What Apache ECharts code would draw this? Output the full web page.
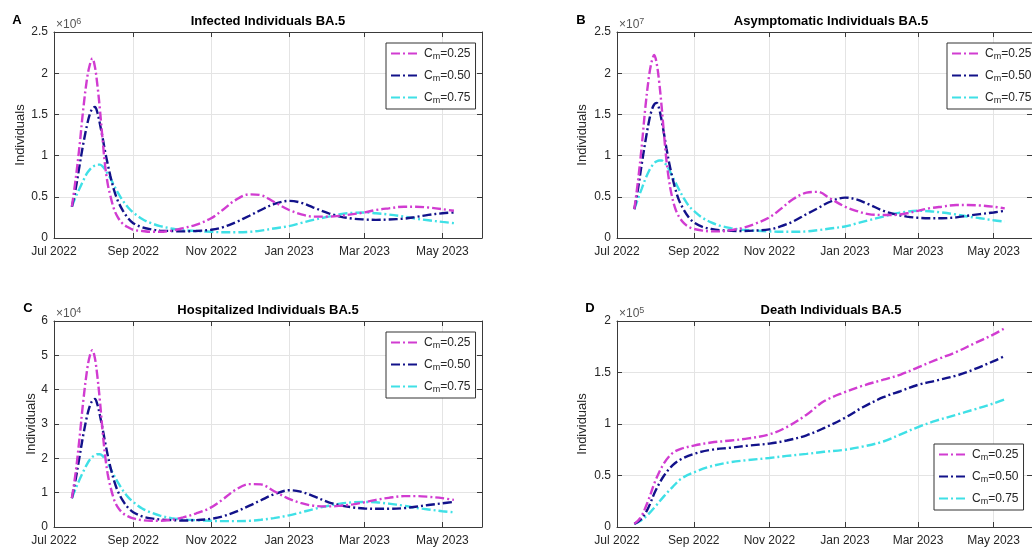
<!DOCTYPE html>
<html>
<head>
<meta charset="utf-8">
<script src="https://cdn.jsdelivr.net/npm/echarts@6/dist/echarts.min.js"></script>
<style>html,body{margin:0;padding:0;background:#fff}#c{width:1032px;height:549px}</style>
</head>
<body>
<div id="c"></div>
<script>
// ---------- DATA ----------
const panelTitles = ['Infected Individuals BA.5', 'Asymptomatic Individuals BA.5', 'Hospitalized Individuals BA.5', 'Death Individuals BA.5'];
const panelLetters = ['A', 'B', 'C', 'D'];
const panelExponents = ['6', '7', '4', '5'];
const yMax = [2.5, 2.5, 6, 2];
const yStep = [0.5, 0.5, 1, 0.5];
const seriesNames = ['Cm=0.25', 'Cm=0.50', 'Cm=0.75'];
const cmValues = ['0.25', '0.50', '0.75'];
const xTickDates = ['2022-07-01', '2022-09-01', '2022-11-01', '2023-01-01', '2023-03-01', '2023-05-01'];
const xTickLabels = ['Jul 2022', 'Sep 2022', 'Nov 2022', 'Jan 2023', 'Mar 2023', 'May 2023'];
const xRange = ['2022-07-01', '2023-06-01'];

// dates for panels A, B, C
const dates = ['2022-07-15','2022-07-18','2022-07-21','2022-07-24','2022-07-27','2022-07-29','2022-07-31',
  '2022-08-02','2022-08-04','2022-08-06','2022-08-08','2022-08-10','2022-08-12','2022-08-14','2022-08-17',
  '2022-08-20','2022-08-24','2022-08-28','2022-09-01','2022-09-08','2022-09-15','2022-09-22','2022-10-01',
  '2022-10-10','2022-10-20','2022-11-01','2022-11-10','2022-11-20','2022-12-01','2022-12-10','2022-12-20',
  '2023-01-01','2023-01-10','2023-01-20','2023-02-01','2023-02-10','2023-02-20','2023-03-01','2023-03-10',
  '2023-03-20','2023-04-01','2023-04-10','2023-04-20','2023-05-01','2023-05-10'];

// Panel A: infected (x10^6)
const infected025 = [0.38,0.72,1.12,1.58,1.95,2.10,2.18,2.08,1.85,1.55,1.20,0.88,0.66,0.52,0.35,0.25,0.17,0.13,0.10,0.085,0.075,0.075,0.09,0.12,0.16,0.24,0.34,0.46,0.53,0.52,0.44,0.34,0.29,0.26,0.26,0.27,0.29,0.31,0.34,0.36,0.38,0.38,0.37,0.35,0.33];
const infected050 = [0.38,0.60,0.88,1.15,1.38,1.50,1.57,1.59,1.52,1.38,1.22,1.05,0.90,0.76,0.58,0.45,0.33,0.24,0.18,0.13,0.105,0.09,0.085,0.08,0.085,0.10,0.13,0.19,0.27,0.34,0.41,0.45,0.43,0.37,0.30,0.26,0.235,0.225,0.22,0.225,0.235,0.255,0.28,0.30,0.31];
const infected075 = [0.38,0.50,0.60,0.70,0.79,0.83,0.86,0.88,0.89,0.89,0.87,0.83,0.78,0.73,0.64,0.55,0.45,0.37,0.31,0.23,0.18,0.145,0.115,0.095,0.085,0.075,0.07,0.07,0.075,0.09,0.115,0.145,0.18,0.22,0.26,0.29,0.305,0.31,0.30,0.285,0.26,0.235,0.215,0.195,0.18];

// Panel B: asymptomatic (x10^7)
const asymp025 = [0.35,0.70,1.12,1.60,1.98,2.14,2.22,2.12,1.90,1.60,1.25,0.93,0.70,0.53,0.36,0.26,0.18,0.135,0.11,0.09,0.08,0.08,0.095,0.12,0.17,0.25,0.35,0.47,0.55,0.56,0.48,0.38,0.33,0.29,0.28,0.28,0.30,0.33,0.36,0.38,0.40,0.40,0.395,0.38,0.36];
const asymp050 = [0.35,0.60,0.90,1.18,1.43,1.55,1.62,1.64,1.57,1.43,1.26,1.08,0.92,0.78,0.60,0.46,0.34,0.25,0.19,0.135,0.11,0.095,0.088,0.085,0.09,0.105,0.14,0.20,0.29,0.36,0.44,0.49,0.47,0.41,0.33,0.29,0.26,0.245,0.24,0.24,0.25,0.27,0.29,0.31,0.33];
const asymp075 = [0.35,0.48,0.60,0.72,0.82,0.87,0.91,0.93,0.94,0.94,0.92,0.88,0.83,0.77,0.68,0.59,0.48,0.39,0.33,0.245,0.19,0.15,0.12,0.10,0.09,0.08,0.075,0.075,0.08,0.095,0.115,0.14,0.175,0.215,0.26,0.295,0.32,0.33,0.325,0.31,0.285,0.26,0.24,0.215,0.20];

// Panel C: hospitalized (x10^4)
const hosp025 = [0.84,1.6,2.6,3.7,4.6,4.98,5.15,4.92,4.37,3.65,2.8,2.08,1.55,1.2,0.8,0.57,0.4,0.31,0.25,0.2,0.18,0.18,0.21,0.28,0.39,0.57,0.8,1.08,1.25,1.24,1.05,0.82,0.7,0.62,0.6,0.62,0.66,0.72,0.79,0.85,0.9,0.9,0.88,0.84,0.79];
const hosp050 = [0.84,1.4,2.05,2.7,3.25,3.52,3.68,3.73,3.56,3.24,2.87,2.47,2.1,1.77,1.35,1.04,0.76,0.56,0.43,0.31,0.25,0.22,0.2,0.19,0.2,0.24,0.31,0.44,0.62,0.78,0.95,1.07,1.03,0.9,0.72,0.63,0.57,0.54,0.53,0.53,0.55,0.59,0.64,0.69,0.73];
const hosp075 = [0.84,1.12,1.38,1.62,1.84,1.96,2.04,2.09,2.12,2.12,2.07,1.97,1.85,1.72,1.5,1.3,1.06,0.87,0.73,0.54,0.42,0.33,0.26,0.22,0.2,0.18,0.17,0.17,0.18,0.21,0.26,0.34,0.42,0.52,0.62,0.68,0.72,0.73,0.72,0.68,0.62,0.56,0.51,0.46,0.43];

// Panel D: deaths (x10^5)
const datesD = ['2022-07-15','2022-07-20','2022-07-26','2022-08-01','2022-08-08','2022-08-15','2022-08-22','2022-09-01',
  '2022-09-15','2022-10-01','2022-10-15','2022-11-01','2022-11-15','2022-12-01','2022-12-15','2023-01-01','2023-01-15',
  '2023-02-01','2023-02-15','2023-03-01','2023-03-15','2023-04-01','2023-04-15','2023-05-01','2023-05-10'];
const death025 = [0.03,0.09,0.25,0.45,0.62,0.72,0.76,0.79,0.82,0.84,0.86,0.90,0.97,1.09,1.22,1.31,1.37,1.43,1.48,1.55,1.62,1.70,1.78,1.87,1.93];
const death050 = [0.03,0.07,0.18,0.35,0.50,0.60,0.66,0.71,0.75,0.77,0.79,0.81,0.84,0.89,0.96,1.06,1.16,1.26,1.32,1.38,1.42,1.47,1.53,1.61,1.66];
const death075 = [0.03,0.06,0.12,0.20,0.30,0.39,0.47,0.53,0.59,0.63,0.65,0.67,0.69,0.71,0.73,0.75,0.78,0.83,0.90,0.97,1.03,1.09,1.14,1.20,1.24];

// ---------- BUILD ----------
const panelDates = [dates, dates, dates, datesD];
const panelValues = [
  [infected025, infected050, infected075],
  [asymp025, asymp050, asymp075],
  [hosp025, hosp050, hosp075],
  [death025, death050, death075]
];
const colors = ['#d13cd1', '#12128a', '#3fe0e6'];
const dashPattern = [9, 3, 2, 3];

// day number counted from the start of the x range (UTC, no DST issues)
function dayNum(s) {
  const p = s.split('-').map(Number), q = xRange[0].split('-').map(Number);
  return Math.round((Date.UTC(p[0], p[1] - 1, p[2]) - Date.UTC(q[0], q[1] - 1, q[2])) / 86400000);
}
const tickDays = xTickDates.map(dayNum);
const xMaxDay = dayNum(xRange[1]);

const grids = [
  { left: 54, top: 32, width: 428, height: 206 },
  { left: 617, top: 32, width: 428, height: 206 },
  { left: 54, top: 321, width: 428, height: 206 },
  { left: 617, top: 321, width: 428, height: 206 }
];
const legendPos = [
  { left: 386, top: 43 }, { left: 947, top: 43 },
  { left: 386, top: 332 }, { left: 934, top: 444 }
];
const nameGaps = [27, 28, 16, 28];
const letterPos = [[17, 20], [581, 20], [28, 308], [590, 308]];
const axisColor = '#3a3a3a';
const gridColor = '#e4e4e4';
const FONT = 'Liberation Sans, Arial, sans-serif';

const xAxes = [], yAxes = [], series = [], legends = [], graphics = [];
grids.forEach((g, i) => {
  const common = {
    gridIndex: i, type: 'value', min: 0, max: xMaxDay,
    axisLine: { show: true, onZero: false, lineStyle: { color: axisColor, width: 1 } },
    axisTick: { show: true, inside: true, length: 5, customValues: tickDays, lineStyle: { color: axisColor } }
  };
  xAxes.push(Object.assign({}, common, {
    position: 'bottom',
    axisLabel: {
      customValues: tickDays, color: '#262626', fontSize: 12, fontFamily: FONT, margin: 8,
      formatter: v => { const k = tickDays.indexOf(v); return k >= 0 ? xTickLabels[k] : ''; }
    },
    splitLine: { show: true, lineStyle: { color: gridColor, width: 1 } }
  }));
  xAxes.push(Object.assign({}, common, {
    position: 'top', axisLabel: { show: false }, splitLine: { show: false }
  }));
  const ycommon = {
    gridIndex: i, type: 'value', min: 0, max: yMax[i], interval: yStep[i],
    axisLine: { show: true, onZero: false, lineStyle: { color: axisColor, width: 1 } },
    axisTick: { show: true, inside: true, length: 5, lineStyle: { color: axisColor } }
  };
  yAxes.push(Object.assign({}, ycommon, {
    position: 'left',
    name: 'Individuals', nameLocation: 'middle', nameGap: nameGaps[i],
    nameTextStyle: { color: '#262626', fontSize: 13, fontFamily: FONT },
    axisLabel: { color: '#262626', fontSize: 12, fontFamily: FONT, margin: 6 },
    splitLine: { show: true, lineStyle: { color: gridColor, width: 1 } }
  }));
  yAxes.push(Object.assign({}, ycommon, {
    position: 'right', axisLabel: { show: false }, splitLine: { show: false }
  }));
  panelValues[i].forEach((vals, s) => {
    series.push({
      type: 'line', name: seriesNames[s], xAxisIndex: 2 * i, yAxisIndex: 2 * i,
      data: panelDates[i].map((d, k) => [dayNum(d), vals[k]]),
      showSymbol: false, symbol: 'none', smooth: 0.35,
      lineStyle: { color: colors[s], width: 2.4, type: dashPattern },
      itemStyle: { color: colors[s] },
      z: 5 - s
    });
  });
  legends.push({
    data: seriesNames, orient: 'vertical', left: legendPos[i].left, top: legendPos[i].top,
    backgroundColor: '#fff', borderColor: '#333', borderWidth: 1,
    padding: [3, 5, 4, 4], itemGap: 7, itemWidth: 28, itemHeight: 14,
    selectedMode: false,
    itemStyle: { opacity: 0 },
    formatter: n => '{c|C}{s|m}{c|=' + cmValues[seriesNames.indexOf(n)] + '}',
    textStyle: {
      color: '#262626', fontFamily: FONT,
      rich: {
        c: { fontSize: 12, fontFamily: FONT, color: '#262626', lineHeight: 14 },
        s: { fontSize: 9, fontFamily: FONT, color: '#262626', padding: [6, 0, 0, 0], lineHeight: 14 }
      }
    }
  });
  graphics.push({
    type: 'text', x: g.left + g.width / 2, y: g.top - 11,
    style: { text: panelTitles[i], fill: '#000', font: 'bold 13px ' + FONT, align: 'center', verticalAlign: 'middle' }
  });
  graphics.push({
    type: 'text', x: letterPos[i][0], y: letterPos[i][1],
    style: { text: panelLetters[i], fill: '#000', font: 'bold 13px ' + FONT, align: 'center', verticalAlign: 'middle' }
  });
  graphics.push({
    type: 'text', x: g.left + 2, y: g.top - 7,
    style: {
      text: '{a|×10}{e|' + panelExponents[i] + '}', verticalAlign: 'middle',
      rich: {
        a: { fontSize: 12, fill: '#555', fontFamily: FONT, lineHeight: 14 },
        e: { fontSize: 9, fill: '#555', fontFamily: FONT, padding: [0, 0, 7, 0], lineHeight: 14 }
      }
    }
  });
});

const chart = echarts.init(document.getElementById('c'), null, { renderer: 'canvas' });
chart.setOption({
  animation: false,
  backgroundColor: '#fff',
  grid: grids,
  xAxis: xAxes, yAxis: yAxes, series: series, legend: legends,
  graphic: graphics
});
</script>
</body>
</html>
